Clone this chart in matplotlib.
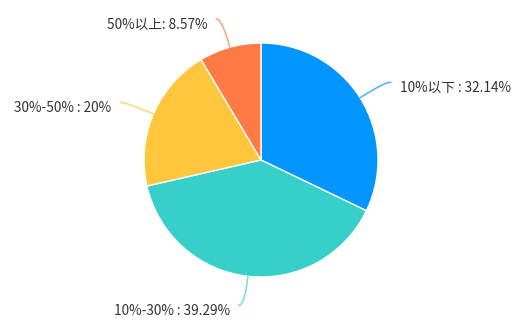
import numpy as np
import matplotlib.pyplot as plt

plt.rcParams['font.family'] = ['Noto Sans CJK SC', 'DejaVu Sans']

# data
labels = ['10%以下', '10%-30%', '30%-50%', '50%以上']
values = [32.14, 39.29, 20.0, 8.57]
label_texts = ['10%以下 : 32.14%', '10%-30% : 39.29%', '30%-50% : 20%', '50%以上: 8.57%']
colors = ['#0095FF', '#36CFCA', '#FFC53D', '#FF7A45']
line_colors = ['#4DB1FF', '#72DDD9', '#FFD670', '#FF9F7A']

W, H = 520, 331
fig = plt.figure(figsize=(W / 100, H / 100), dpi=100)
ax = fig.add_axes([0, 0, 1, 1])
ax.set_xlim(0, W)
ax.set_ylim(0, H)
ax.set_aspect('equal')
ax.axis('off')

cx, cy, r = 261, H - 160, 117
wedges, _ = ax.pie(values, colors=colors, startangle=90, counterclock=False,
                   center=(cx, cy), radius=r,
                   wedgeprops=dict(edgecolor='white', linewidth=1))
ax.set_xlim(0, W)
ax.set_ylim(0, H)

for w, txt, lc in zip(wedges, label_texts, line_colors):
    mid = np.deg2rad((w.theta1 + w.theta2) / 2)
    c, s = np.cos(mid), np.sin(mid)
    p0 = np.array([cx + r * c, cy + r * s])
    p1 = np.array([cx + 1.25 * r * c, cy + 1.25 * r * s])
    side = 1 if c >= 0 else -1
    p2 = p1 + np.array([side * 6, 0])
    t = np.linspace(0, 1, 30)[:, None]
    curve = (1 - t) ** 2 * p0 + 2 * (1 - t) * t * p1 + t ** 2 * p2
    ax.plot(curve[:, 0], curve[:, 1], color=lc, lw=1.1, solid_capstyle='round')
    ax.text(p2[0] + side * 9, p2[1] - 5.5, txt, ha='left' if side > 0 else 'right',
            va='center', fontsize=9.8, color='#333333', fontweight='medium')

fig.savefig('out.png', dpi=100)
